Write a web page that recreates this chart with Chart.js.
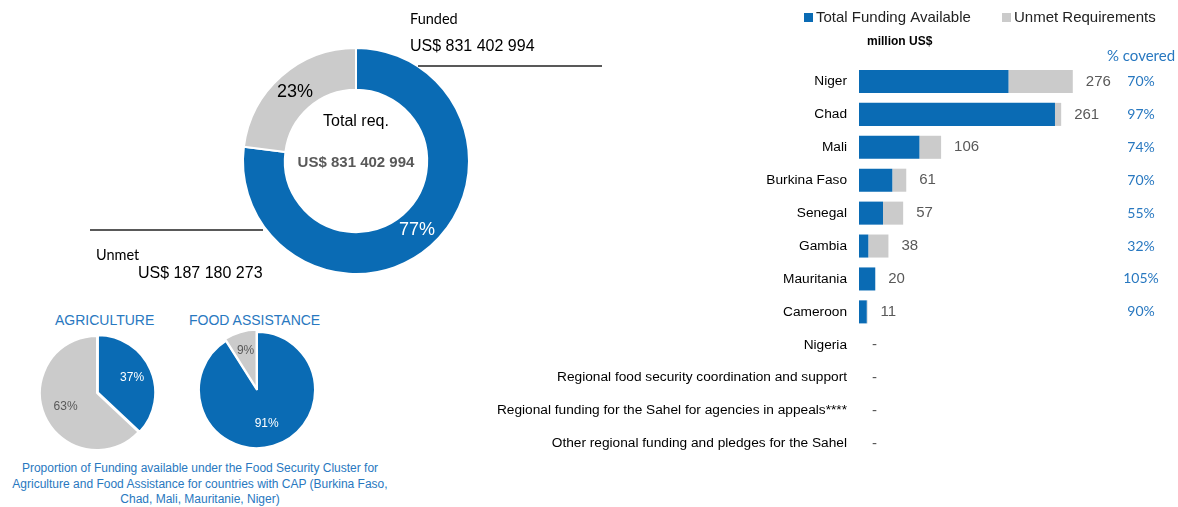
<!DOCTYPE html>
<html>
<head>
<meta charset="utf-8">
<script src="https://cdn.jsdelivr.net/npm/chart.js@4.4.0/dist/chart.umd.min.js"></script>
<style>
  body { margin: 0; background: #fff; width: 1178px; height: 507px; position: relative; overflow: hidden;
         font-family: "Liberation Sans", Arial, sans-serif; }
  .box { position: absolute; }
  .ttl { position: absolute; top: 312px; color: #2878c0; font-size: 14px; }
  #caption { position: absolute; left: 0; top: 461px; width: 400px; text-align: center;
             color: #2878c0; font-size: 12px; line-height: 15.5px; }
</style>
</head>
<body>
<div class="box" style="left:0;top:0;width:620px;height:300px"><canvas id="donut"></canvas></div>
<div class="box" style="left:37px;top:333px;width:120px;height:120px"><canvas id="agri"></canvas></div>
<div class="box" style="left:195px;top:328px;width:124px;height:124px"><canvas id="food"></canvas></div>
<div class="ttl" style="left:55px">AGRICULTURE</div>
<div class="ttl" style="left:189px">FOOD ASSISTANCE</div>
<div id="caption">Proportion of Funding available under the Food Security Cluster for<br>Agriculture and Food Assistance for countries with CAP (Burkina Faso,<br>Chad, Mali, Mauritanie, Niger)</div>
<div class="box" style="left:470px;top:0;width:708px;height:507px"><canvas id="bars"></canvas></div>

<script>
const BLUE = '#0a6bb4';
const GREY = '#cbcbcb';
const LABEL_BLUE = '#2878c0';

// overall doughnut
const overallLabels = ['Funded', 'Unmet'];
const overallShares = [77, 23];

// food security cluster pies
const agriLabels = ['Funded', 'Unmet'];
const agriShares = [37, 63];
const foodLabels = ['Funded', 'Unmet'];
const foodShares = [91, 9];

// bar chart, million US$
const countries = ['Niger', 'Chad', 'Mali', 'Burkina Faso', 'Senegal', 'Gambia', 'Mauritania', 'Cameroon', 'Nigeria',
  'Regional food security coordination and support',
  'Regional funding for the Sahel for agencies in appeals****',
  'Other regional funding and pledges for the Sahel'];
const fundingAvailable = [193, 253, 78, 43, 31, 12, 21, 10, 0, 0, 0, 0];
const unmetRequirements = [83, 8, 28, 18, 26, 26, 0, 1, 0, 0, 0, 0];
const requirementLabels = ['276', '261', '106', '61', '57', '38', '20', '11', '-', '-', '-', '-'];
const coveredLabels = ['70%', '97%', '74%', '70%', '55%', '32%', '105%', '90%', '', '', '', ''];

Chart.defaults.font.family = '"Liberation Sans", Arial, sans-serif';
Chart.defaults.animation = false;

// writes the share inside each arc
function arcLabels(colors, fontSize, factor) {
  return {
    id: 'arcLabels',
    afterDatasetsDraw(chart) {
      const ctx = chart.ctx;
      const meta = chart.getDatasetMeta(0);
      ctx.save();
      ctx.font = fontSize + 'px "Liberation Sans", Arial';
      ctx.textAlign = 'center';
      ctx.textBaseline = 'middle';
      meta.data.forEach((arc, i) => {
        const p = arc.getProps(['x', 'y', 'startAngle', 'endAngle', 'innerRadius', 'outerRadius']);
        const mid = (p.startAngle + p.endAngle) / 2;
        const r = p.innerRadius + (p.outerRadius - p.innerRadius) * factor + (arc.options.offset || 0);
        ctx.fillStyle = colors[i];
        ctx.fillText(chart.data.datasets[0].data[i] + '%', p.x + Math.cos(mid) * r, p.y + Math.sin(mid) * r);
      });
      ctx.restore();
    }
  };
}

const donutNotes = {
  id: 'donutNotes',
  afterDraw(chart) {
    const ctx = chart.ctx;
    const a = chart.chartArea;
    const cx = (a.left + a.right) / 2;
    ctx.save();
    ctx.textBaseline = 'middle';
    ctx.textAlign = 'center';
    ctx.fillStyle = '#000';
    ctx.font = '16px "Liberation Sans", Arial';
    ctx.fillText('Total req.', cx, 122);
    ctx.fillStyle = '#595959';
    ctx.font = 'bold 15px "Liberation Sans", Arial';
    ctx.fillText('US$ 831 402 994', cx, 163);

    ctx.textAlign = 'left';
    ctx.fillStyle = '#000';
    ctx.font = '14.5px Lato, "Open Sans", sans-serif';
    ctx.fillText('Funded', 410, 19);
    ctx.fillText('Unmet', 96, 255);
    ctx.font = '16px "Liberation Sans", Arial';
    ctx.fillText('US$ 831 402 994', 410, 47);
    ctx.fillText('US$ 187 180 273', 138, 274);

    ctx.strokeStyle = '#595959';
    ctx.lineWidth = 2;
    ctx.beginPath();
    ctx.moveTo(418, 66); ctx.lineTo(602, 66);
    ctx.moveTo(90, 230); ctx.lineTo(263, 230);
    ctx.stroke();
    ctx.restore();
  }
};

new Chart(document.getElementById('donut'), {
  type: 'doughnut',
  data: {
    labels: overallLabels,
    datasets: [{ data: overallShares, backgroundColor: [BLUE, GREY], borderColor: '#fff', borderWidth: 2 }]
  },
  options: {
    responsive: true,
    maintainAspectRatio: false,
    cutout: '63%',
    layout: { padding: { left: 242, top: 47, right: 150, bottom: 25 } },
    plugins: { legend: { display: false }, tooltip: { enabled: false } }
  },
  plugins: [arcLabels(['#fff', '#000'], 18, 0.5), donutNotes]
});

function smallPie(id, labels, shares, offsets, textColors) {
  new Chart(document.getElementById(id), {
    type: 'pie',
    data: {
      labels: labels,
      datasets: [{ data: shares, backgroundColor: [BLUE, GREY], borderColor: '#fff', borderWidth: 2, offset: offsets }]
    },
    options: {
      responsive: true,
      maintainAspectRatio: false,
      plugins: { legend: { display: false }, tooltip: { enabled: false } }
    },
    plugins: [arcLabels(textColors, 12, 0.6)]
  });
}
smallPie('agri', agriLabels, agriShares, [4, 0], ['#fff', '#595959']);
smallPie('food', foodLabels, foodShares, [0, 6], ['#fff', '#595959']);

// legend, unit, value and % covered labels of the bar chart
const barNotes = {
  id: 'barNotes',
  afterDraw(chart) {
    const ctx = chart.ctx;
    ctx.save();
    ctx.textBaseline = 'middle';
    // legend
    const legendX = [334, 532];
    chart.data.datasets.forEach((ds, i) => {
      ctx.fillStyle = ds.backgroundColor;
      ctx.fillRect(legendX[i], 13, 9, 9);
      ctx.fillStyle = '#222';
      ctx.font = '15px "Liberation Sans", Arial';
      ctx.textAlign = 'left';
      ctx.fillText(ds.label, legendX[i] + 12, 18);
    });
    ctx.font = 'bold 12px "Liberation Sans", Arial';
    ctx.fillStyle = '#000';
    ctx.fillText('million US$', 397, 42);

    ctx.textAlign = 'center';
    ctx.fillStyle = LABEL_BLUE;
    ctx.font = '15px Lato, "Open Sans", sans-serif';
    ctx.fillText('% covered', 671, 56);

    const top = chart.getDatasetMeta(1);
    top.data.forEach((bar, i) => {
      ctx.textAlign = 'left';
      ctx.fillStyle = '#595959';
      ctx.font = '15px "Liberation Sans", Arial';
      ctx.fillText(requirementLabels[i], bar.x + 13, bar.y);
      ctx.textAlign = 'center';
      ctx.fillStyle = LABEL_BLUE;
      ctx.font = '14px Lato, "Open Sans", sans-serif';
      ctx.fillText(coveredLabels[i], 671, bar.y);
    });
    ctx.restore();
  }
};

new Chart(document.getElementById('bars'), {
  type: 'bar',
  data: {
    labels: countries,
    datasets: [
      { label: 'Total Funding Available', data: fundingAvailable, backgroundColor: BLUE },
      { label: 'Unmet Requirements', data: unmetRequirements, backgroundColor: GREY }
    ]
  },
  options: {
    indexAxis: 'y',
    responsive: true,
    maintainAspectRatio: false,
    layout: { padding: { top: 65, right: 20, bottom: 47, left: 0 } },
    datasets: { bar: { barPercentage: 0.7, categoryPercentage: 1 } },
    scales: {
      x: { stacked: true, min: 0, max: 386, display: false },
      y: {
        stacked: true,
        grid: { display: false },
        border: { display: false },
        ticks: { autoSkip: false, color: '#000', font: { size: 13.7 }, padding: 4 },
        afterFit(scale) { scale.width = 389; }
      }
    },
    plugins: { legend: { display: false }, tooltip: { enabled: false } }
  },
  plugins: [barNotes]
});
</script>
</body>
</html>
